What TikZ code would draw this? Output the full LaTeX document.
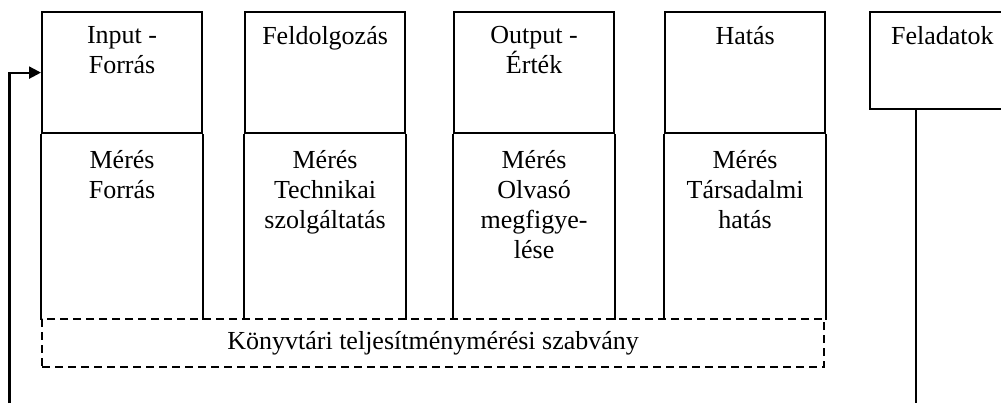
\documentclass[tikz,border=0pt]{standalone}
\usepackage{fontspec}
\setmainfont{Liberation Serif}
\usetikzlibrary{positioning,arrows.meta}

\tikzset{
  box/.style={draw, line width=1.1pt, minimum width=80pt, inner sep=0pt, anchor=north west},
  lbl/.style={align=center, inner sep=0pt, font=\fontsize{13}{15}\selectfont},
}

\begin{document}
\begin{tikzpicture}[x=0.5pt, y=-0.5pt, line width=1.1pt]
    \useasboundingbox (0,0) rectangle (1001,403);
    \clip (0,0) rectangle (1001,403);
    % upper boxes
    \node[box, minimum height=60.5pt] (inp) at (41,11) {};
    \node[box, minimum height=60.5pt] (feld) at (244,11) {};
    \node[box, minimum height=60.5pt] (outp) at (453,11) {};
    \node[box, minimum height=60.5pt] (hat) at (664,11) {};
    \node[box, minimum height=48.5pt] (fel) at (869,11) {};
    % lower parts, open at the bottom
    \draw (inp.south west) -- ++(0,186) (inp.south east) -- ++(0,186);
    \draw (feld.south west) -- ++(0,186) (feld.south east) -- ++(0,186);
    \draw (outp.south west) -- ++(0,186) (outp.south east) -- ++(0,186);
    \draw (hat.south west) -- ++(0,186) (hat.south east) -- ++(0,186);
    \node[box, lbl, dash pattern=on 4pt off 2.5pt, minimum width=391pt, minimum height=24pt] (szab) at (41,318)
        {K\"onyvt\'ari teljes\'itm\'enym\'er\'esi szabv\'any};
    % labels
    \node[lbl, below=7pt of inp.north] {Input -\\Forrás};
    \node[lbl, below=7pt of feld.north] {Feldolgozás};
    \node[lbl, below=7pt of outp.north] {Output -\\Érték};
    \node[lbl, below=7pt of hat.north] {Hatás};
    \node[lbl, below right=7pt and 10.5pt of fel.north west] {Feladatok};
    \node[lbl, below=7.5pt of inp.south] {Mérés\\Forrás};
    \node[lbl, below=7.5pt of feld.south] {Mérés\\Technikai\\szolgáltatás};
    \node[lbl, below=7.5pt of outp.south] {Mérés\\Olvasó\\megfigye-\\lése};
    \node[lbl, below=7.5pt of hat.south] {Mérés\\Társadalmi\\hatás};
    % feedback line
    \coordinate (felvege) at (916,403);
    \coordinate (vissza) at (9.5,403);
    \draw (fel.south -| felvege) -- (felvege);
    \draw[-{Triangle[length=6pt,width=6pt]}] (vissza) |- (inp.west);
\end{tikzpicture}
\end{document}
